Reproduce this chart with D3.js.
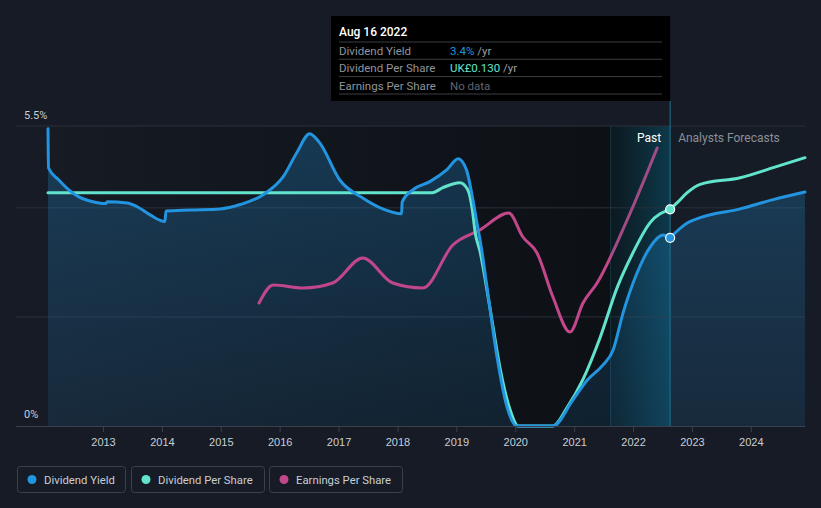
<!DOCTYPE html>
<html><head><meta charset="utf-8">
<script src="https://cdn.jsdelivr.net/npm/d3@7"></script>
<style>
html,body{margin:0;padding:0;background:#161b25;}
svg{display:block;font-family:Roboto,"Noto Sans",sans-serif;}
</style></head>
<body><svg id="c" width="821" height="508"></svg>
<script>
// ---- data (years as decimal years) ----
const yieldYears = [2012.066,2012.075,2012.25,2012.42,2012.59,2012.76,2012.93,2013.05,2013.07,2013.41,2013.58,2013.80,2014.05,2014.07,2014.48,2014.99,2015.33,2015.72,2016.06,2016.29,2016.51,2016.68,2017.02,2017.41,2017.75,2018.07,2018.08,2018.26,2018.55,2018.84,2019.03,2019.17,2019.28,2019.33,2019.43,2019.52,2019.69,2019.86,2020.03,2020.64,2020.98,2021.22,2021.49,2021.66,2021.83,2022.07,2022.29,2022.51,2022.63];
const yieldValues = [5.45,4.73,4.51,4.33,4.20,4.13,4.09,4.08,4.11,4.09,4.02,3.87,3.75,3.94,3.96,3.98,4.06,4.24,4.57,5.01,5.36,5.19,4.51,4.18,3.98,3.89,4.11,4.33,4.48,4.70,4.90,4.70,4.15,3.84,3.23,2.55,1.27,0.35,0,0,0.48,0.84,1.12,1.39,2.07,2.81,3.28,3.50,3.45];
const yieldFcYears = [2022.63,2022.92,2023.14,2023.82,2024.38,2024.92];
const yieldFcValues = [3.45,3.72,3.82,3.98,4.15,4.29];

const dpsYears = [2012.066,2018.59,2018.77,2019.06,2019.19,2019.27,2019.32,2019.40,2019.57,2019.74,2019.91,2020.05,2020.64,2020.88,2021.15,2021.44,2021.73,2022.00,2022.29,2022.63];
const dpsValues = [0.140,0.140,0.143,0.146,0.142,0.130,0.116,0.105,0.071,0.035,0.010,0,0,0.011,0.028,0.053,0.083,0.104,0.122,0.130];
const dpsFcYears = [2022.63,2022.75,2022.92,2023.14,2023.82,2024.38,2024.92];
const dpsFcValues = [0.130,0.134,0.140,0.145,0.149,0.155,0.161];

const epsYears = [2015.65,2015.89,2016.40,2016.90,2017.41,2017.92,2018.43,2018.94,2019.40,2019.89,2020.13,2020.37,2020.64,2020.93,2021.15,2021.39,2021.90,2022.41];
const epsValues = [0.123,0.141,0.138,0.143,0.168,0.143,0.138,0.181,0.196,0.213,0.189,0.173,0.129,0.094,0.123,0.143,0.206,0.278];

const xTicks = [2013,2014,2015,2016,2017,2018,2019,2020,2021,2022,2023,2024];
const yTickLabels = ["5.5%","0%"];
const legendItems = ["Dividend Yield","Dividend Per Share","Earnings Per Share"];
const tooltipTitle = "Aug 16 2022";
const tooltipRows = [["Dividend Yield","3.4%"," /yr"],["Dividend Per Share","UK£0.130"," /yr"],["Earnings Per Share","No data",""]];
const hoverYear = 2022.63, pastStartYear = 2021.62;

// ---- styling ----
const C = {blue:"#2394df", teal:"#62e3cc", pink:"#c2478a", text:"#c9ced6", grey:"#8a9099", grid:"#2a303a"};
const L=48, R=805, T=126, B=426;

const svg = d3.select("#c");
const x = d3.scaleLinear().domain([2012.066, 2024.92]).range([L, R]);
const y = d3.scaleLinear().domain([0, 5.5]).range([B, T]);
const yD = d3.scaleLinear().domain([0, 0.18]).range([B, T]);
const yE = d3.scaleLinear().domain([0, 0.30]).range([B, T]);

const defs = svg.append("defs");
const g1 = defs.append("linearGradient").attr("id","plotbg").attr("x1",0).attr("x2",1).attr("y1",0).attr("y2",0);
g1.append("stop").attr("offset","0%").attr("stop-color","#161b24");
g1.append("stop").attr("offset","100%").attr("stop-color","#0d1015");
const g2 = defs.append("linearGradient").attr("id","pastbg").attr("x1",0).attr("x2",1).attr("y1",0).attr("y2",0);
g2.append("stop").attr("offset","0%").attr("stop-color","#0e6a8a").attr("stop-opacity",0.08);
g2.append("stop").attr("offset","100%").attr("stop-color","#0e6a8a").attr("stop-opacity",0.45);
const g3 = defs.append("linearGradient").attr("id","areaFill").attr("x1",0).attr("x2",0).attr("y1",0).attr("y2",1);
g3.append("stop").attr("offset","0%").attr("stop-color","#2394df").attr("stop-opacity",0.28);
g3.append("stop").attr("offset","100%").attr("stop-color","#2394df").attr("stop-opacity",0.12);
const g4 = defs.append("linearGradient").attr("id","epsStroke").attr("gradientUnits","userSpaceOnUse")
  .attr("x1",x(pastStartYear)-1).attr("x2",x(pastStartYear)+1).attr("y1",0).attr("y2",0);
g4.append("stop").attr("offset","0%").attr("stop-color",C.pink);
g4.append("stop").attr("offset","100%").attr("stop-color","#a04a86");

// plot backgrounds
svg.append("rect").attr("x",L).attr("y",T).attr("width",x(pastStartYear)-L).attr("height",B-T).attr("fill","url(#plotbg)");
svg.append("rect").attr("x",x(pastStartYear)).attr("y",T).attr("width",x(hoverYear)-x(pastStartYear)).attr("height",B-T).attr("fill","#0c1116");
svg.append("rect").attr("x",x(pastStartYear)).attr("y",T).attr("width",x(hoverYear)-x(pastStartYear)).attr("height",B-T).attr("fill","url(#pastbg)");
svg.append("rect").attr("x",x(hoverYear)).attr("y",T).attr("width",R-x(hoverYear)).attr("height",B-T).attr("fill","#161c26");

// gridlines
[5.5,4,2].forEach(v=>{
  svg.append("line").attr("x1",16).attr("x2",R).attr("y1",y(v)).attr("y2",y(v)).attr("stroke",C.grid).attr("stroke-width",1);
});
svg.append("line").attr("x1",x(pastStartYear)).attr("x2",x(pastStartYear)).attr("y1",T).attr("y2",B).attr("stroke","#173642").attr("stroke-width",1);

// area under dividend yield
const allYieldYears = yieldYears.concat(yieldFcYears.slice(1));
const allYieldVals = yieldValues.concat(yieldFcValues.slice(1));
const area = d3.area().x(d=>x(d[0])).y0(B).y1(d=>y(d[1])).curve(d3.curveMonotoneX);
svg.append("path").datum(allYieldYears.map((t,i)=>[t,allYieldVals[i]])).attr("d",area).attr("fill","url(#areaFill)");

// lines
const line = (ys)=>d3.line().x(d=>x(d[0])).y(d=>ys(d[1])).curve(d3.curveMonotoneX);
function drawLine(years, vals, ys, color){
  svg.append("path").datum(years.map((t,i)=>[t,vals[i]])).attr("d",line(ys)).attr("fill","none")
    .attr("stroke",color).attr("stroke-width",3).attr("stroke-linejoin","round").attr("stroke-linecap","round");
}
drawLine(epsYears, epsValues, yE, "url(#epsStroke)");
drawLine(dpsYears, dpsValues, yD, C.teal);
drawLine(dpsFcYears, dpsFcValues, yD, C.teal);
drawLine(yieldYears, yieldValues, y, C.blue);
drawLine(yieldFcYears, yieldFcValues, y, C.blue);

// x axis
svg.append("line").attr("x1",16).attr("x2",R).attr("y1",B+0.5).attr("y2",B+0.5).attr("stroke","#3a414c");
const xa = svg.append("g").attr("transform",`translate(0,${B+1})`)
  .call(d3.axisBottom(x).tickValues(xTicks).tickFormat(d3.format("d")).tickSize(5).tickPadding(6));
xa.select(".domain").remove();
xa.selectAll(".tick line").attr("stroke","#3a414c");
xa.selectAll("text").attr("fill",C.text).attr("font-size",11);

// y labels
svg.append("text").attr("x",24).attr("y",y(5.5)-7).attr("fill",C.text).attr("font-size",11).text(yTickLabels[0]);
svg.append("text").attr("x",24).attr("y",B-8).attr("fill",C.text).attr("font-size",11).text(yTickLabels[1]);

// hover line
svg.append("line").attr("x1",x(hoverYear)).attr("x2",x(hoverYear)).attr("y1",101).attr("y2",B).attr("stroke","#1e7390").attr("stroke-width",1);

// past / forecast labels
svg.append("text").attr("x",x(hoverYear)-9).attr("y",142).attr("text-anchor","end").attr("fill","#ffffff").attr("font-size",12).text("Past");
svg.append("text").attr("x",x(hoverYear)+8).attr("y",142).attr("fill",C.grey).attr("font-size",12).text("Analysts Forecasts");

// hover dots
svg.append("circle").attr("cx",x(hoverYear)).attr("cy",yD(0.130)).attr("r",4.5).attr("fill",C.teal).attr("stroke","#fff").attr("stroke-width",1.2);
svg.append("circle").attr("cx",x(hoverYear)).attr("cy",y(3.45)).attr("r",4.5).attr("fill",C.blue).attr("stroke","#fff").attr("stroke-width",1.2);

// tooltip
const tt = svg.append("g");
tt.append("rect").attr("x",331).attr("y",16).attr("width",x(hoverYear)-331).attr("height",85).attr("fill","#000");
tt.append("text").attr("x",339).attr("y",36).attr("fill","#fff").attr("font-size",12).attr("font-weight",500).text(tooltipTitle);
const valColors = [C.blue, C.teal, "#5f656e"];
tooltipRows.forEach((r,i)=>{
  const yy = 42 + i*17.3;
  tt.append("line").attr("x1",339).attr("x2",662).attr("y1",yy).attr("y2",yy).attr("stroke","#3a3d42");
  tt.append("text").attr("x",339).attr("y",yy+13).attr("fill","#8f949b").attr("font-size",11.5).text(r[0]);
  const t = tt.append("text").attr("x",450).attr("y",yy+13).attr("font-size",11.5);
  t.append("tspan").attr("fill",valColors[i]).text(r[1]);
  t.append("tspan").attr("fill","#9a9fa6").text(r[2]);
});
tt.append("line").attr("x1",339).attr("x2",662).attr("y1",94).attr("y2",94).attr("stroke","#3a3d42");

// legend
const legColors = [C.blue, C.teal, C.pink];
const legX = [17,131,269], legW = [108,133,133];
legendItems.forEach((name,i)=>{
  const g = svg.append("g").attr("transform",`translate(${legX[i]},466)`);
  g.append("rect").attr("x",0.5).attr("y",0.5).attr("width",legW[i]).attr("height",26).attr("rx",3).attr("fill","none").attr("stroke","#3b414b");
  g.append("circle").attr("cx",15).attr("cy",13.5).attr("r",4.5).attr("fill",legColors[i]);
  g.append("text").attr("x",27).attr("y",17.5).attr("fill",C.text).attr("font-size",11.3).text(name);
});
</script></body></html>
